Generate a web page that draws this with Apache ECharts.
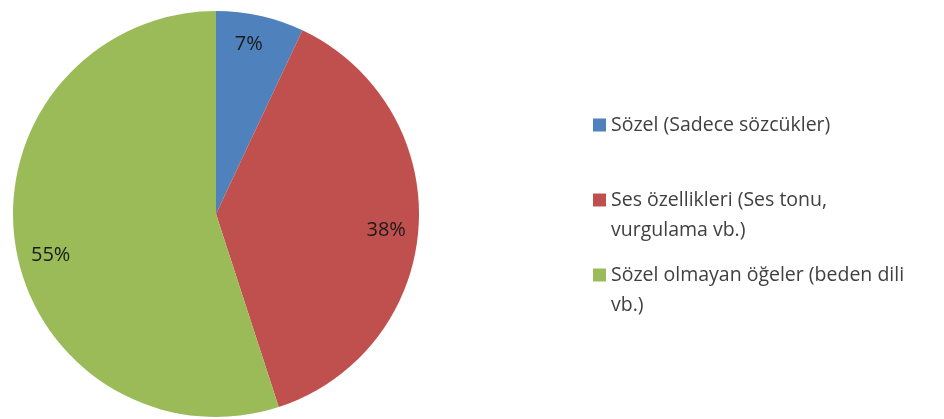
<!DOCTYPE html>
<html><head><meta charset="utf-8">
<script src="https://cdn.jsdelivr.net/npm/echarts@6/dist/echarts.min.js"></script>
<style>html,body{margin:0;padding:0;background:#fff}#c{width:944px;height:419px}</style>
</head><body><div id="c"></div>
<script>
const categories = ['Sözel (Sadece sözcükler)', 'Ses özellikleri (Ses tonu, vurgulama vb.)', 'Sözel olmayan öğeler (beden dili vb.)'];
const values = [7, 38, 55];
const colors = ['#4F81BD', '#C0504D', '#9BBB59'];
const legendText = {
  'Sözel (Sadece sözcükler)': 'Sözel (Sadece sözcükler)',
  'Ses özellikleri (Ses tonu, vurgulama vb.)': '\nSes özellikleri (Ses tonu,\nvurgulama vb.)',
  'Sözel olmayan öğeler (beden dili vb.)': '\nSözel olmayan öğeler (beden dili\nvb.)'
};
const legendTops = [105, 150, 225];
const labelShift = [[-6, 4], [-7, 5], [10, 14]];
const font = '"Open Sans", Lato, sans-serif';
const data = categories.map((c, i) => ({ name: c, value: values[i], itemStyle: { color: colors[i] } }));
const chart = echarts.init(document.getElementById('c'), null, { renderer: 'canvas' });
chart.setOption({
  animation: false,
  legend: categories.map((c, i) => ({
    data: [c], orient: 'vertical', left: 588, top: legendTops[i],
    itemWidth: 13, itemHeight: 13, icon: 'rect', itemGap: 0, selectedMode: false,
    formatter: n => legendText[n],
    textStyle: { fontFamily: font, fontSize: 19.5, color: '#404040', lineHeight: 30 }
  })),
  series: [{
    type: 'pie', center: [216, 214], radius: [0, 203], startAngle: 90, clockwise: true,
    data: data, label: { show: false }, labelLine: { show: false },
    itemStyle: { borderWidth: 0 }, emphasis: { disabled: true }
  }, {
    type: 'pie', center: [216, 214], radius: [146, 203], startAngle: 90, clockwise: true,
    data: data.map(d => ({ name: d.name, value: d.value, itemStyle: { color: 'rgba(0,0,0,0)' } })),
    silent: true, legendHoverLink: false, emphasis: { disabled: true },
    label: { show: true, position: 'inside', formatter: p => p.value + '%', fontFamily: font, fontSize: 20, color: '#1a1a1a' },
    labelLine: { show: false },
    labelLayout: p => ({ dx: labelShift[p.dataIndex][0], dy: labelShift[p.dataIndex][1] })
  }]
});
</script></body></html>
